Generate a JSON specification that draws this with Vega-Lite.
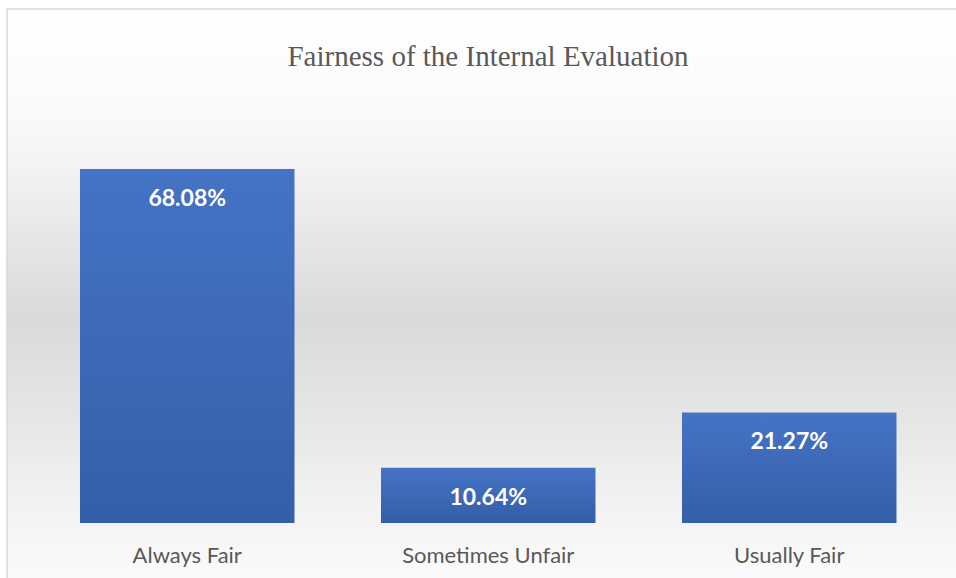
{
  "$schema": "https://vega.github.io/schema/vega-lite/v6.json",
  "width": 952,
  "height": 575,
  "autosize": "none",
  "padding": {"left": 7, "top": 9, "right": -3, "bottom": -6},
  "background": "#ffffff",
  "title": {
    "text": "Fairness of the Internal Evaluation",
    "font": "Liberation Serif",
    "fontSize": 29,
    "fontWeight": "normal",
    "color": "#595959",
    "anchor": "middle",
    "frame": "group",
    "baseline": "alphabetic",
    "offset": -86,
    "dx": 5
  },
  "data": {
    "values": [
      {"category": "Always Fair", "percent": 68.08, "label": "68.08%"},
      {"category": "Sometimes Unfair", "percent": 10.64, "label": "10.64%"},
      {"category": "Usually Fair", "percent": 21.27, "label": "21.27%"}
    ]
  },
  "encoding": {
    "x": {
      "field": "category",
      "type": "nominal",
      "sort": null,
      "scale": {"paddingInner": 0.2874, "paddingOuter": 0.2251, "align": 0.5387},
      "axis": {
        "title": null,
        "orient": "bottom",
        "offset": -61,
        "ticks": false,
        "domain": false,
        "labelAngle": 0,
        "labelFont": "Lato",
        "labelFontSize": 22,
        "labelColor": "#595959",
        "labelBaseline": "alphabetic",
        "labelPadding": 39,
        "grid": false
      }
    },
    "y": {
      "field": "percent",
      "type": "quantitative",
      "scale": {"domain": [-11.73, 98.85], "nice": false, "zero": false},
      "axis": null
    }
  },
  "layer": [
    {
      "mark": {
        "type": "bar",
        "color": {
          "gradient": "linear",
          "x1": 0, "y1": 0, "x2": 0, "y2": 1,
          "stops": [
            {"offset": 0, "color": "#4573c5"},
            {"offset": 1, "color": "#345ea7"}
          ]
        }
      },
      "encoding": {"y2": {"datum": 0}}
    },
    {
      "mark": {
        "type": "text",
        "font": "Lato",
        "fontSize": 23,
        "fontWeight": "bold",
        "color": "#ffffff",
        "baseline": "middle",
        "dy": 30
      },
      "encoding": {"text": {"field": "label"}}
    }
  ],
  "config": {
    "view": {
      "stroke": "#d9d9d9",
      "strokeWidth": 1.5,
      "fill": {
        "gradient": "linear",
        "x1": 0, "y1": 0, "x2": 0, "y2": 1,
        "stops": [
          {"offset": 0, "color": "#ffffff"},
          {"offset": 0.158, "color": "#fbfbfb"},
          {"offset": 0.285, "color": "#f2f2f2"},
          {"offset": 0.383, "color": "#e8e8e8"},
          {"offset": 0.536, "color": "#dadada"},
          {"offset": 0.715, "color": "#e6e6e6"},
          {"offset": 0.854, "color": "#f2f2f2"},
          {"offset": 1, "color": "#fbfbfb"}
        ]
      }
    }
  }
}
